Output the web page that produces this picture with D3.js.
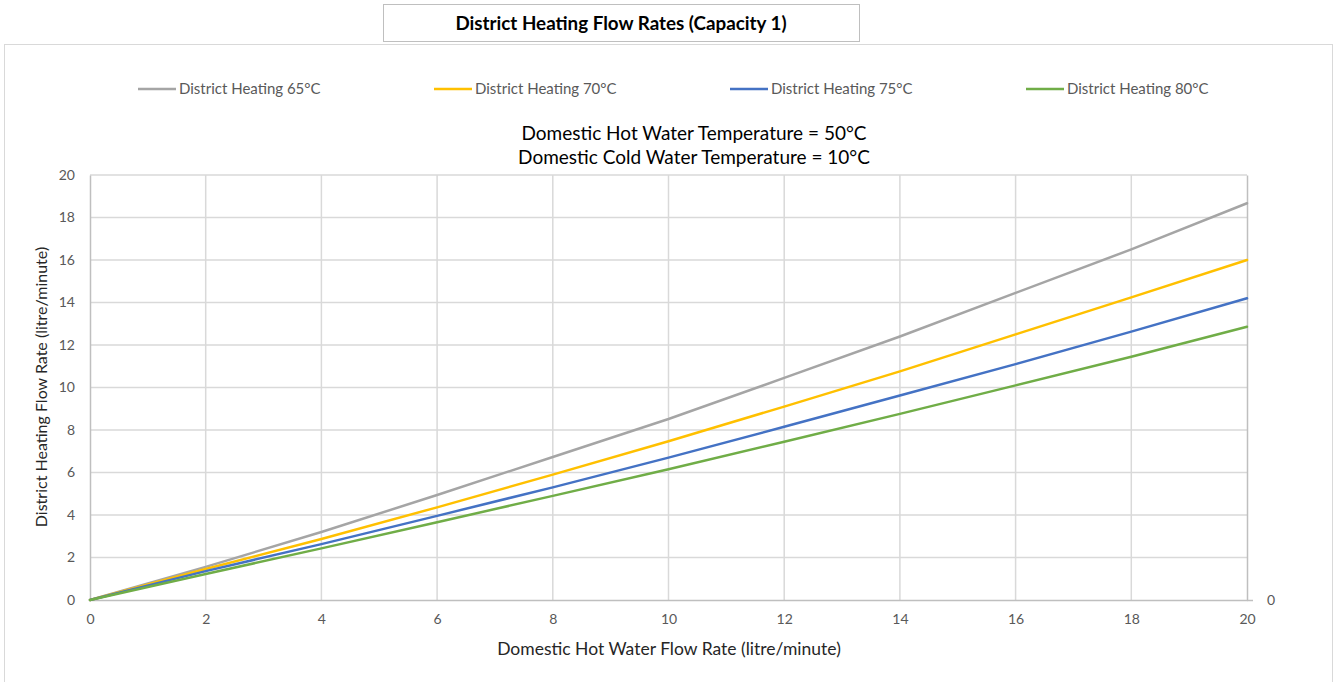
<html>
<head>
<script src='https://d3js.org/d3.v7.min.js'></script>
<style>
  body { margin: 0; background: #fff; }
  text { font-family: Lato, 'Open Sans', sans-serif; }
</style>
</head>
<body onload='init()'>
<svg width=1336 height=682></svg>
<script>
// Domestic hot water flow rate (litre/minute)
const dhwFlow = [0, 2, 4, 6, 8, 10, 12, 14, 16, 18, 20];
// District heating flow rate (litre/minute), one list per supply temperature
const dh65 = [0, 1.56, 3.2, 4.94, 6.73, 8.52, 10.45, 12.4, 14.45, 16.5, 18.67];
const dh70 = [0, 1.46, 2.87, 4.36, 5.9, 7.47, 9.1, 10.76, 12.5, 14.24, 16.0];
const dh75 = [0, 1.36, 2.63, 3.96, 5.3, 6.7, 8.15, 9.62, 11.1, 12.63, 14.2];
const dh80 = [0, 1.22, 2.43, 3.66, 4.9, 6.15, 7.45, 8.76, 10.1, 11.45, 12.86];
const seriesNames = ['District Heating 65°C', 'District Heating 70°C', 'District Heating 75°C', 'District Heating 80°C'];
const seriesColors = ['#a5a5a5', '#ffc000', '#4472c4', '#70ad47'];
const xTicks = [0, 2, 4, 6, 8, 10, 12, 14, 16, 18, 20];
const yTicks = [0, 2, 4, 6, 8, 10, 12, 14, 16, 18, 20];
const y2Ticks = [0];

function init() {
  const svg = d3.select('svg');
  const series = [dh65, dh70, dh75, dh80];

  // chart frame
  svg.append('rect').attr('x', 4.5).attr('y', 44.5).attr('width', 1328).attr('height', 660)
    .attr('fill', '#fff').attr('stroke', '#d9d9d9');

  // title box
  svg.append('rect').attr('x', 383.5).attr('y', 4.5).attr('width', 476).attr('height', 37)
    .attr('fill', '#fff').attr('stroke', '#bfbfbf');
  svg.append('text').attr('x', 621).attr('y', 30).attr('text-anchor', 'middle')
    .attr('font-size', 18.8).attr('font-weight', 'bold').attr('fill', '#000')
    .text('District Heating Flow Rates (Capacity 1)');

  // legend
  const lg = svg.append('g');
  seriesNames.forEach((n, i) => {
    const x0 = 138 + i * 296;
    lg.append('line').attr('x1', x0).attr('x2', x0 + 38).attr('y1', 89).attr('y2', 89)
      .attr('stroke', seriesColors[i]).attr('stroke-width', 2.5);
    lg.append('text').attr('x', x0 + 41).attr('y', 94).attr('font-size', 15)
      .attr('fill', '#595959').text(n);
  });

  // subtitle
  svg.append('text').attr('x', 694).attr('y', 140).attr('text-anchor', 'middle')
    .attr('font-size', 19).attr('fill', '#000').text('Domestic Hot Water Temperature = 50°C');
  svg.append('text').attr('x', 694).attr('y', 164).attr('text-anchor', 'middle')
    .attr('font-size', 19).attr('fill', '#000').text('Domestic Cold Water Temperature = 10°C');

  const x = d3.scaleLinear().domain([0, 20]).range([90, 1247]);
  const y = d3.scaleLinear().domain([0, 20]).range([600, 175]);

  // grid
  svg.append('g').selectAll('line').data(yTicks.slice(1)).enter().append('line')
    .attr('x1', x(0)).attr('x2', x(20)).attr('y1', d => y(d)).attr('y2', d => y(d))
    .attr('stroke', '#d9d9d9').attr('stroke-width', 1.5);
  svg.append('g').selectAll('line').data(xTicks.slice(1, -1)).enter().append('line')
    .attr('x1', d => x(d)).attr('x2', d => x(d)).attr('y1', y(0)).attr('y2', y(20))
    .attr('stroke', '#d9d9d9').attr('stroke-width', 1.5);

  // axes
  const xAxis = svg.append('g').attr('transform', 'translate(0,600)')
    .call(d3.axisBottom(x).tickValues(xTicks).tickSize(0).tickPadding(14));
  const yAxis = svg.append('g').attr('transform', 'translate(90,0)')
    .call(d3.axisLeft(y).tickValues(yTicks).tickSize(0).tickPadding(15));
  [xAxis, yAxis].forEach(a => {
    a.select('.domain').attr('stroke', '#bfbfbf').attr('stroke-width', 1.5);
    a.selectAll('text').attr('font-family', 'Lato, sans-serif').attr('font-size', 14).attr('fill', '#595959');
  });
  // secondary axis (right), only a 0 label
  const y2 = d3.scaleLinear().domain([0, 1]).range([600, 175]);
  const rAxis = svg.append('g').attr('transform', 'translate(1247,0)')
    .call(d3.axisRight(y2).tickValues(y2Ticks).tickFormat(d3.format('d'))
      .tickSizeInner(6).tickSizeOuter(0).tickPadding(14));
  rAxis.select('.domain').attr('stroke', '#bfbfbf').attr('stroke-width', 1.5);
  rAxis.selectAll('.tick line').attr('stroke', '#bfbfbf').attr('stroke-width', 1.5);
  rAxis.selectAll('text').attr('font-family', 'Lato, sans-serif').attr('font-size', 14).attr('fill', '#595959');

  // axis titles
  svg.append('text').attr('x', 669).attr('y', 655).attr('text-anchor', 'middle')
    .attr('font-size', 17.5).attr('fill', '#262626').text('Domestic Hot Water Flow Rate (litre/minute)');
  svg.append('text').attr('transform', 'translate(47,387) rotate(-90)').attr('text-anchor', 'middle')
    .attr('font-size', 16).attr('fill', '#262626').text('District Heating Flow Rate (litre/minute)');

  // lines
  const line = d3.line().x((d, i) => x(dhwFlow[i])).y(d => y(d));
  svg.append('g').selectAll('path').data(series).enter().append('path')
    .attr('d', line).attr('fill', 'none')
    .attr('stroke', (d, i) => seriesColors[i]).attr('stroke-width', 2.5)
    .attr('stroke-linejoin', 'round').attr('stroke-linecap', 'round');
}
</script>
</body>
</html>
